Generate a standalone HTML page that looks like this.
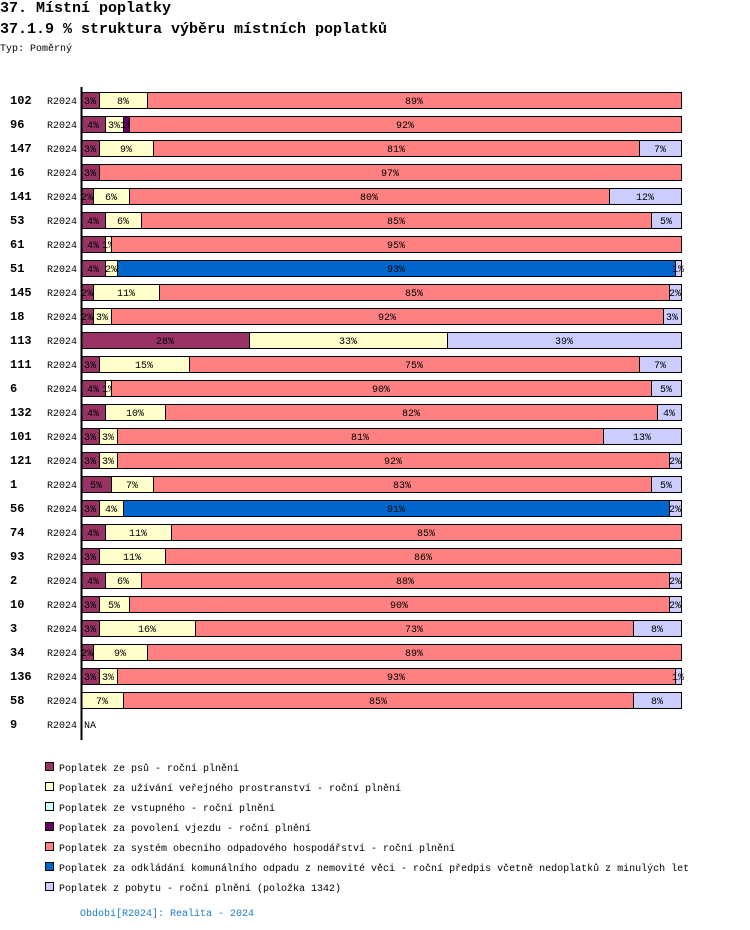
<!DOCTYPE html>
<html><head><meta charset="utf-8"><style>
body{margin:0;background:#fff;width:750px;height:930px;overflow:hidden;position:relative;font-family:"Liberation Mono",monospace;color:#000}
.t{position:absolute;white-space:nowrap}
</style></head><body>
<div class="t" style="left:0;top:0;font-size:15px;font-weight:bold">37. Místní poplatky</div>
<div class="t" style="left:0;top:21px;font-size:15px;font-weight:bold">37.1.9 % struktura výběru místních poplatků</div>
<div class="t" style="left:0;top:44px;font-size:10px">Typ: Poměrný</div>
<svg id="chart" width="750" height="930" style="position:absolute;left:0;top:0" font-family="Liberation Mono, monospace"></svg>
<script>
const ids=["102","96","147","16","141","53","61","51","145","18","113","111","6","132","101","121","1","56","74","93","2","10","3","34","136","58","9"];
const colors=["#993366","#ffffcc","#ccffff","#660066","#ff8080","#0066cc","#ccccff"];
const series=["Poplatek ze psů - roční plnění","Poplatek za užívání veřejného prostranství - roční plnění","Poplatek ze vstupného - roční plnění","Poplatek za povolení vjezdu - roční plnění","Poplatek za systém obecního odpadového hospodářství - roční plnění","Poplatek za odkládání komunálního odpadu z nemovité věci - roční předpis včetně nedoplatků z minulých let","Poplatek z pobytu - roční plnění (položka 1342)"];
// values per row: [psi, verejne, vstupne, vjezd, odpad, komunalni, pobyt]
const s0=[3,4,3,3,2,4,4,4,2,2,28,3,4,4,3,3,5,3,4,3,4,3,3,2,3,0,null];
const s1=[8,3,9,0,6,6,1,2,11,3,33,15,1,10,3,3,7,4,11,11,6,5,16,9,3,7,null];
const s2=[0,0,0,0,0,0,0,0,0,0,0,0,0,0,0,0,0,0,0,0,0,0,0,0,0,0,null];
const s3=[0,1,0,0,0,0,0,0,0,0,0,0,0,0,0,0,0,0,0,0,0,0,0,0,0,0,null];
const s4=[89,92,81,97,80,85,95,0,85,92,0,75,90,82,81,92,83,0,85,86,88,90,73,89,93,85,null];
const s5=[0,0,0,0,0,0,0,93,0,0,0,0,0,0,0,0,0,91,0,0,0,0,0,0,0,0,null];
const s6=[0,0,7,0,12,5,0,1,2,3,39,7,5,4,13,2,5,2,0,0,2,2,8,0,1,8,null];
const allS=[s0,s1,s2,s3,s4,s5,s6];
const svg=document.getElementById('chart');
const NS='http://www.w3.org/2000/svg';
const X0=81,W=600,Y0=100,DY=24,BH=16;
const yPos=i=>Y0+i*DY;
function mk(t,a,p){const e=document.createElementNS(NS,t);for(const k in a)e.setAttribute(k,a[k]);(p||svg).appendChild(e);return e;}
ids.forEach((id,i)=>{
  const y=yPos(i);
  const l=mk('text',{x:10,y:y+4,'font-size':12,'font-weight':'bold'});l.textContent=id;
  
  
  const r=mk('text',{x:47,y:y+4,'font-size':10});r.textContent='R2024';
  
  
  if(s0[i]===null){const n=mk('text',{x:84,y:y+4,'font-size':10});n.textContent='NA';
    
    return;}
  let tot=0;allS.forEach(s=>tot+=s[i]);
  let acc=0;
  allS.forEach((s,k)=>{
    const v=s[i];if(!v)return;
    const xa=X0+acc/tot*W;acc+=v;const xb=X0+acc/tot*W;
    const rc=mk('rect',{x:xa+0.5,y:y-8+0.5,width:xb-xa,height:BH,fill:colors[k],stroke:'#000','stroke-width':1});
    
    
    const tx=mk('text',{x:(xa+xb)/2,y:y+4,'font-size':10,'text-anchor':'middle',fill:'#000'});
    tx.textContent=v+'%';
    
    
  });
});
const ax=mk('line',{x1:81.5,y1:87,x2:81.5,y2:740,stroke:'#000','stroke-width':2});


series.forEach((s,k)=>{
  const y=767+k*20;
  const sq=mk('rect',{x:45.5,y:y-4.5,width:8,height:8,fill:colors[k],stroke:'#000'});
  
  
  const t=mk('text',{x:59,y:y+4,'font-size':10});t.textContent=s;
  
  
});
const f=mk('text',{x:80,y:916,'font-size':10,fill:'#1a7ac8'});f.textContent='Období[R2024]: Realita - 2024';


</script>
</body></html>
